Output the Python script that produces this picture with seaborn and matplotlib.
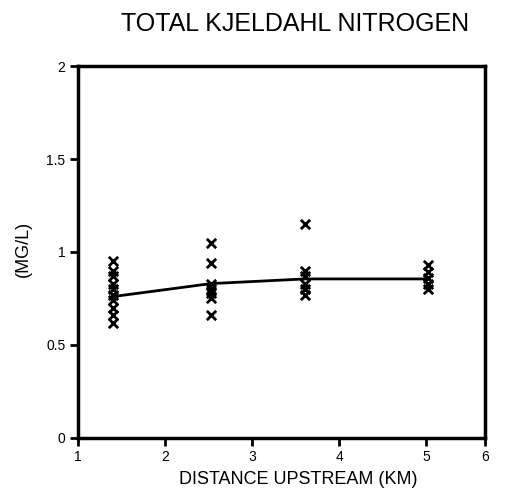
import matplotlib
matplotlib.use("Agg")
import matplotlib.pyplot as plt
import seaborn as sns
import pandas as pd

# sampled concentrations at each station (km upstream)
site1_km = [1.4] * 10
site1_tkn = [0.95, 0.90, 0.87, 0.83, 0.80, 0.77, 0.74, 0.70, 0.66, 0.62]
site2_km = [2.53] * 7
site2_tkn = [1.05, 0.94, 0.83, 0.80, 0.78, 0.75, 0.66]
site3_km = [3.61] * 6
site3_tkn = [1.15, 0.90, 0.87, 0.83, 0.80, 0.77]
site4_km = [5.02] * 5
site4_tkn = [0.93, 0.89, 0.86, 0.83, 0.80]

# mean line drawn through the stations
mean_km = [1.4, 2.53, 3.61, 5.02]
mean_tkn = [0.76, 0.83, 0.855, 0.855]

x_ticks = [1, 2, 3, 4, 5]
y_ticks = [0, 0.5, 1, 1.5, 2]
y_ticklabels = ["0", "0.5", "1", "1.5", "2"]

points = pd.DataFrame({
    "km": site1_km + site2_km + site3_km + site4_km,
    "tkn": site1_tkn + site2_tkn + site3_tkn + site4_tkn,
})
means = pd.DataFrame({"km": mean_km, "tkn": mean_tkn})

sns.set_style("white")
plt.rcParams["font.family"] = ["Liberation Sans", "DejaVu Sans"]
plt.rcParams["text.color"] = "black"
plt.rcParams["axes.labelcolor"] = "black"
plt.rcParams["xtick.color"] = "black"
plt.rcParams["ytick.color"] = "black"

fig = plt.figure(figsize=(5.2, 4.97), dpi=100)
ax = fig.add_axes([0.15, 0.119, 0.783, 0.748])

sns.lineplot(data=means, x="km", y="tkn", color="black", linewidth=2, ax=ax)
sns.scatterplot(data=points, x="km", y="tkn", marker="x", color="black",
                s=45, linewidth=2, ax=ax)

# hand-drawn axis: the right end is labelled 6
x_end = 5.68
ax.set_xlim(1, x_end)
ax.set_ylim(0, 2)
ax.set_xticks(x_ticks + [x_end])
ax.set_xticklabels([str(v) for v in x_ticks] + ["6"], fontsize=10)
ax.set_yticks(y_ticks)
ax.set_yticklabels(y_ticklabels, fontsize=10)
ax.tick_params(bottom=True, left=True, direction="out", length=6, width=2,
               color="black", pad=3)

for side in ax.spines.values():
    side.set_linewidth(2.5)
    side.set_color("black")

ax.set_xlabel("")
ax.set_ylabel("")
fig.text(0.573, 0.036, "DISTANCE UPSTREAM (KM)", ha="center", va="center",
         fontsize=13)
fig.text(0.045, 0.50, "(MG/L)", ha="center", va="center", rotation=90,
         fontsize=13)
fig.text(0.567, 0.952, "TOTAL KJELDAHL NITROGEN", ha="center", va="center",
         fontsize=18)

fig.savefig("out.png", dpi=100)
